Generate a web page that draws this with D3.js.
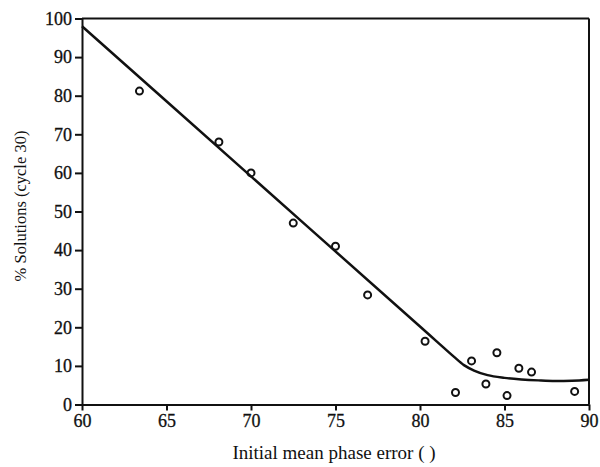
<!DOCTYPE html>
<html>
  <head>
    <meta charset="UTF-8" />
    <script src="https://d3js.org/d3.v7.min.js"></script>
    <style>
      body { margin: 0; background: #fff; }
      text { font-family: "Liberation Serif", "DejaVu Serif", serif; fill: #111; }
    </style>
  </head>
  <body>
    <svg width="600" height="467"></svg>
    <script>
      // observed points
      var errX = [63.4, 68.1, 70.0, 72.5, 75.0, 76.9, 80.3, 82.1, 83.05, 83.9, 84.55, 85.15, 85.85, 86.6, 89.15];
      var solY = [81.2, 68, 60, 47, 41, 28.4, 16.4, 3.1, 11.3, 5.3, 13.4, 2.3, 9.4, 8.4, 3.4];

      // fitted curve
      var fitX = [60, 70, 80, 81, 82, 82.6, 83.2, 84, 85, 86, 87, 88, 89, 90];
      var fitY = [98, 59.1, 20.2, 16.3, 12.4, 10.2, 8.8, 7.6, 6.9, 6.5, 6.25, 6.1, 6.15, 6.4];

      var xTicks = [60, 65, 70, 75, 80, 85, 90];
      var yTicks = [0, 10, 20, 30, 40, 50, 60, 70, 80, 90, 100];

      var svg = d3.select("svg"),
        margin = { top: 18.5, right: 11, bottom: 62.5, left: 82 },
        width = +svg.attr("width") - margin.left - margin.right,
        height = +svg.attr("height") - margin.top - margin.bottom,
        g = svg.append("g").attr("transform", "translate(" + margin.left + "," + margin.top + ")");

      var x = d3.scaleLinear().domain([60, 90]).range([0, width]);
      var y = d3.scaleLinear().domain([0, 100]).range([height, 0]);

      // frame top + right
      g.append("line").attr("x1", 0).attr("x2", width).attr("y1", 0).attr("y2", 0)
        .attr("stroke", "#111").attr("stroke-width", 2);
      g.append("line").attr("x1", width).attr("x2", width).attr("y1", 0).attr("y2", height)
        .attr("stroke", "#111").attr("stroke-width", 2);

      var xAxis = g.append("g")
        .attr("transform", "translate(0," + height + ")")
        .call(d3.axisBottom(x).tickValues(xTicks).tickSize(6).tickPadding(4).tickSizeOuter(0));
      xAxis.selectAll("text").attr("font-size", 18).attr("font-family", "Liberation Serif")
        .attr("stroke", "#111").attr("stroke-width", 0.3);

      var yAxis = g.append("g")
        .call(d3.axisLeft(y).tickValues(yTicks).tickSize(7).tickPadding(3).tickSizeOuter(0));
      yAxis.selectAll("text").attr("font-size", 18).attr("font-family", "Liberation Serif")
        .attr("stroke", "#111").attr("stroke-width", 0.3);

      svg.selectAll(".domain, .tick line").attr("stroke", "#111").attr("stroke-width", 2);

      var pts = fitX.map(function (d, i) { return [d, fitY[i]]; });
      g.append("path")
        .datum(pts)
        .attr("fill", "none")
        .attr("stroke", "#111")
        .attr("stroke-width", 2.5)
        .attr("d", d3.line()
          .x(function (d) { return x(d[0]); })
          .y(function (d) { return y(d[1]); })
          .curve(d3.curveMonotoneX));

      g.selectAll("circle")
        .data(errX)
        .enter()
        .append("circle")
        .attr("cx", function (d) { return x(d); })
        .attr("cy", function (d, i) { return y(solY[i]); })
        .attr("r", 3.5)
        .attr("fill", "none")
        .attr("stroke", "#111")
        .attr("stroke-width", 2);

      svg.append("text")
        .attr("x", 334)
        .attr("y", 459)
        .attr("text-anchor", "middle")
        .attr("font-size", 19)
        .text("Initial mean phase error ( )");

      svg.append("text")
        .attr("transform", "translate(26,206) rotate(-90)")
        .attr("text-anchor", "middle")
        .attr("font-size", 16.5)
        .text("% Solutions (cycle 30)");
    </script>
  </body>
</html>
